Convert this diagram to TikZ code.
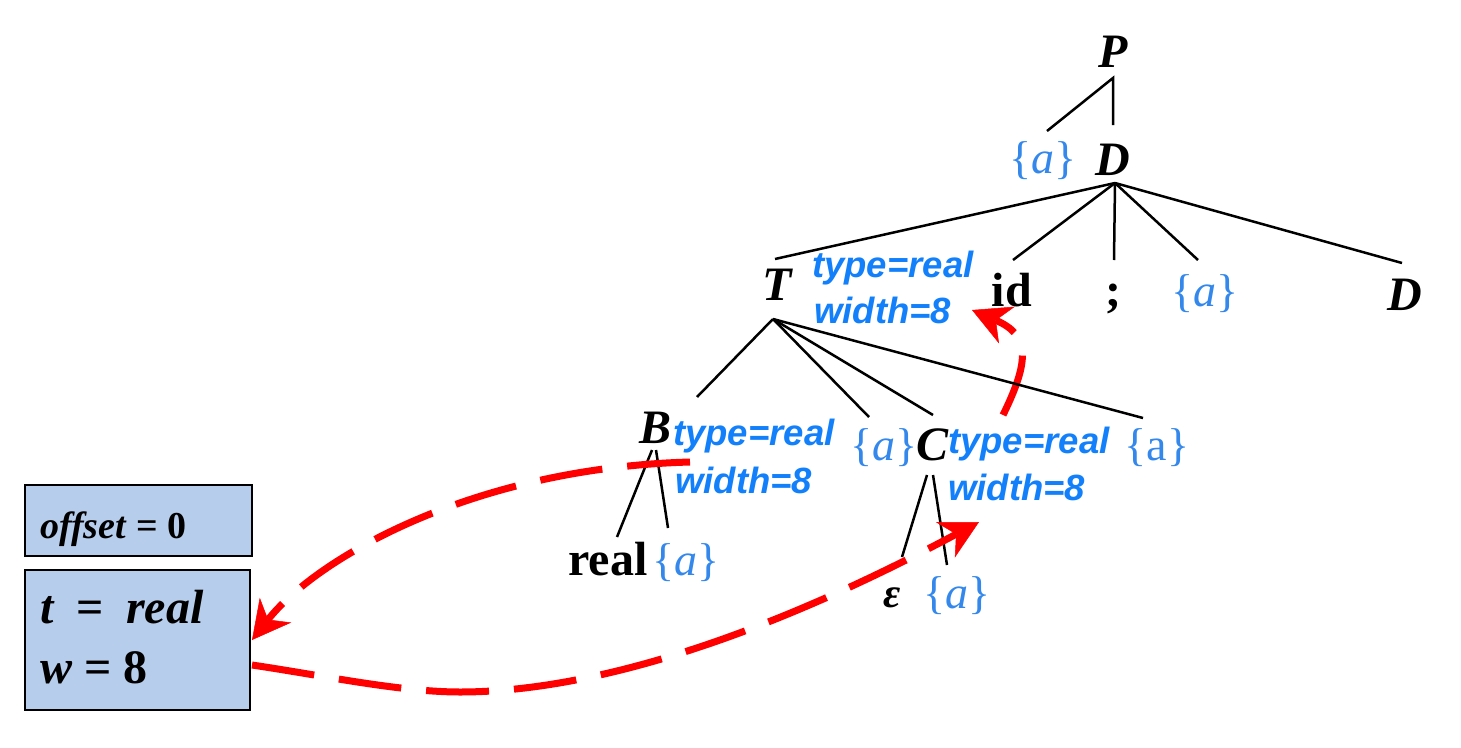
\documentclass[tikz,border=0pt]{standalone}
\usepackage{fontspec}
\setmainfont{Liberation Serif}
\newfontfamily\attrfont{Liberation Sans}
\usetikzlibrary{arrows.meta}
\definecolor{attrblue}{RGB}{18,128,250}
\definecolor{actblue}{RGB}{52,136,236}
\definecolor{boxfill}{RGB}{183,205,236}
\definecolor{flowred}{RGB}{255,0,0}

\begin{document}
\begin{tikzpicture}[x=1pt,y=-1pt,
  sym/.style={inner sep=0pt, anchor=base, font=\fontsize{48}{50}\selectfont\bfseries\itshape},
  term/.style={inner sep=0pt, anchor=base, font=\fontsize{48}{50}\selectfont\bfseries},
  act/.style={inner sep=0pt, anchor=base, text=actblue, font=\fontsize{46}{48}\selectfont},
  attr/.style={inner sep=0pt, anchor=base west, text=attrblue,
    font=\attrfont\fontsize{36.5}{38}\selectfont\bfseries\itshape},
  treeline/.style={line width=2.5pt, black},
  flow/.style={flowred, line width=7pt, dash pattern=on 63pt off 25pt,
    -{Stealth[length=38pt,width=40pt,inset=12pt,line width=0.5pt]}},
  store/.style={draw=black, line width=2.5pt, fill=boxfill, inner sep=0pt},
  boxtext/.style={inner sep=0pt, anchor=base west}]
\useasboundingbox (0,0) rectangle (1461,747);

% ---------- symbol table boxes ----------
\node[store, minimum width=227pt, minimum height=71pt] (offbox) at (138.5,520.5) {};
\node[store, minimum width=225pt, minimum height=140pt] (twbox) at (137.5,640) {};
\node[boxtext, font=\fontsize{38}{40}\selectfont\bfseries] (offtxt) at (40,538) {\textit{offset} = 0};
\node[boxtext, font=\fontsize{48}{50}\selectfont\bfseries] (ttxt) at (40,623) {\textit{t}\hspace{22pt}=\hspace{22pt}\textit{real}};
\node[boxtext, font=\fontsize{48}{50}\selectfont\bfseries] (wtxt) at (40,683) {\textit{w} = 8};

% ---------- parse tree labels ----------
\node[sym] (P) at (1113,67) {P};
\node[act] (a1) at (1043,173) {\{\textit{a}\}};
\node[sym] (D1) at (1113,175) {D};

\node[sym] (T) at (777,300) {T};
\node[attr] (Ttype) at (812,277) {type=real};
\node[attr] (Twidth) at (814,323) {width=8};
\node[term] (id) at (1012,306) {id};
\node[term] (semi) at (1113,306) {;};
\node[act] (a2) at (1205,306) {\{\textit{a}\}};
\node[sym] (D2) at (1405,310) {D};

\node[sym] (B) at (655,443) {B};
\node[attr] (Btype) at (673,445) {type=real};
\node[attr] (Bwidth) at (675,493) {width=8};
\node[act] (a3) at (884,460) {\{\textit{a}\}};
\node[sym] (C) at (932,460) {C};
\node[attr] (Ctype) at (948,453) {type=real};
\node[attr] (Cwidth) at (948,500) {width=8};
\node[act] (a4) at (1157,460) {\{a\}};

\node[term] (real) at (608,575) {real};
\node[act] (a5) at (686,575) {\{\textit{a}\}};
\node[sym, font=\fontsize{42}{44}\selectfont\bfseries\itshape] (eps) at (892,607) {ε};
\node[act] (a6) at (957,608) {\{\textit{a}\}};

% ---------- edge end points ----------
\coordinate (P-s) at (1113,78);
\coordinate (a1-n) at (1047,131);
\coordinate (D1-n) at (1113,125);
\coordinate (D1-s) at (1115,183);
\coordinate (T-n) at (775,259);
\coordinate (id-n) at (1013,260);
\coordinate (semi-n) at (1114,260);
\coordinate (a2-n) at (1198,260);
\coordinate (D2-n) at (1402,263);
\coordinate (T-s) at (773,319);
\coordinate (B-n) at (697,397);
\coordinate (a3-n) at (869,417);
\coordinate (C-n) at (933,415);
\coordinate (a4-n) at (1143,418);
\coordinate (B-sl) at (652,450);
\coordinate (B-sr) at (656,450);
\coordinate (real-n) at (617,537);
\coordinate (a5-n) at (668,528);
\coordinate (C-sl) at (927,475);
\coordinate (C-sr) at (933,475);
\coordinate (eps-n) at (902,557);
\coordinate (a6-n) at (947,565);

% flow end points
\coordinate (Bflow) at (690,462);
\coordinate (twin) at (252,640);
\coordinate (twout) at (252,665);
\coordinate (Cin) at (979,522);
\coordinate (Cflow) at (1003,415);
\coordinate (Tin) at (972,310);

% ---------- flow of inherited / synthesized values (under the tree) ----------
\draw[flow] (Cflow) .. controls (1030,360) and (1030,335) .. (Tin);

% ---------- tree edges ----------
\draw[treeline] (a1-n) -- (P-s) -- (D1-n);
\foreach \t in {T-n, id-n, semi-n, a2-n, D2-n} \draw[treeline] (D1-s) -- (\t);
\foreach \t in {B-n, a3-n, C-n, a4-n} \draw[treeline] (T-s) -- (\t);
\draw[treeline] (B-sl) -- (real-n);
\draw[treeline] (B-sr) -- (a5-n);
\draw[treeline] (C-sl) -- (eps-n);
\draw[treeline] (C-sr) -- (a6-n);

% ---------- flows to and from the symbol table ----------
\draw[flow] (Bflow) .. controls (470,468) and (315,560) .. (twin);
\draw[flow] (twout) .. controls (320,675) and (400,692) .. (460,692)
  .. controls (560,692) and (720,660) .. (Cin);
\end{tikzpicture}
\end{document}
